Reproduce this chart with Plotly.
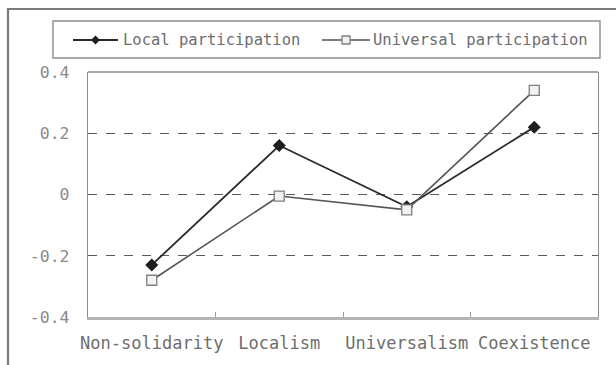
import plotly.graph_objects as go

# Categories and series values
categories = ["Non-solidarity", "Localism", "Universalism", "Coexistence"]
local_participation = [-0.23, 0.16, -0.04, 0.22]
universal_participation = [-0.28, -0.005, -0.05, 0.34]
series_names = ["Local participation", "Universal participation"]
y_tick_vals = [-0.4, -0.2, 0, 0.2, 0.4]
y_tick_text = ["-0.4", "-0.2", "0", "0.2", "0.4"]

W, H = 616, 365
L, R, T, B = 88, 18, 72, 48
pw, ph = W - L - R, H - T - B


def px_x(x):
    return (x - L) / pw


def px_y(y):
    return (H - B - y) / ph


FONT = "DejaVu Sans Mono"
TXT = "#6e6e6e"
LOCAL_COLOR = "#2a2a2a"
UNIV_LINE = "#555555"

fig = go.Figure()
fig.add_trace(go.Scatter(
    x=categories, y=local_participation, name=series_names[0],
    mode="lines+markers",
    line=dict(color=LOCAL_COLOR, width=1.8),
    marker=dict(symbol="diamond", size=10, color="#1e1e1e",
                line=dict(width=0)),
))
fig.add_trace(go.Scatter(
    x=categories, y=universal_participation, name=series_names[1],
    mode="lines+markers",
    line=dict(color=UNIV_LINE, width=1.6),
    marker=dict(symbol="square", size=10, color="#f2f2f2",
                line=dict(color="#808080", width=1.3)),
))

shapes = []
# Outer chart frame (runs past the right and bottom edges)
shapes.append(dict(type="rect", xref="paper", yref="paper",
                   x0=px_x(8), x1=px_x(650), y0=px_y(400), y1=px_y(9),
                   line=dict(color="#7a7a7a", width=2.2), layer="below"))
# Top edge of the plot area
shapes.append(dict(type="line", xref="paper", yref="paper",
                   x0=0, x1=1, y0=1, y1=1,
                   line=dict(color="#8a8a8a", width=1.3)))

# Legend box
shapes.append(dict(type="rect", xref="paper", yref="paper",
                   x0=px_x(53), x1=px_x(600), y0=px_y(58), y1=px_y(21),
                   line=dict(color="#8c8c8c", width=1.4), fillcolor="white"))
leg_y = 40
# Local participation key: line with filled diamond
shapes.append(dict(type="line", xref="paper", yref="paper",
                   x0=px_x(73), x1=px_x(118), y0=px_y(leg_y), y1=px_y(leg_y),
                   line=dict(color=LOCAL_COLOR, width=1.8)))
cx = 95.5
d = 4.5
shapes.append(dict(type="path", xref="paper", yref="paper",
                   path=(f"M{px_x(cx - d)},{px_y(leg_y)} L{px_x(cx)},{px_y(leg_y - d)} "
                         f"L{px_x(cx + d)},{px_y(leg_y)} L{px_x(cx)},{px_y(leg_y + d)} Z"),
                   fillcolor="#1e1e1e", line=dict(width=0)))
# Universal participation key: line with open square
shapes.append(dict(type="line", xref="paper", yref="paper",
                   x0=px_x(322), x1=px_x(370), y0=px_y(leg_y), y1=px_y(leg_y),
                   line=dict(color=UNIV_LINE, width=1.6)))
cx2 = 346
s = 4
shapes.append(dict(type="rect", xref="paper", yref="paper",
                   x0=px_x(cx2 - s), x1=px_x(cx2 + s),
                   y0=px_y(leg_y + s), y1=px_y(leg_y - s),
                   fillcolor="#f2f2f2", line=dict(color="#808080", width=1.3)))

annotations = [
    dict(text=series_names[0], xref="paper", yref="paper",
         x=px_x(121), y=px_y(leg_y), xanchor="left", yanchor="middle",
         showarrow=False, font=dict(family=FONT, size=15.5, color=TXT)),
    dict(text=series_names[1], xref="paper", yref="paper",
         x=px_x(371), y=px_y(leg_y), xanchor="left", yanchor="middle",
         showarrow=False, font=dict(family=FONT, size=15.5, color=TXT)),
]

fig.update_layout(
    width=W, height=H,
    margin=dict(l=L, r=R, t=T, b=B, autoexpand=False),
    paper_bgcolor="white", plot_bgcolor="white",
    font=dict(family=FONT, size=16, color=TXT),
    showlegend=False,
    shapes=shapes,
    annotations=annotations,
    xaxis=dict(
        type="category", range=[-0.5, 3.5],
        showgrid=False, showline=True,
        linecolor="#b4b4b4", linewidth=2.5,
        ticks="inside", tickson="boundaries", ticklen=5, tickcolor="#9a9a9a",
        tickwidth=1.2, tickangle=0, automargin=False,
        ticklabelstandoff=9,
        tickfont=dict(family=FONT, size=17, color=TXT),
        fixedrange=True,
    ),
    yaxis=dict(
        range=[-0.4, 0.4], tickvals=y_tick_vals, ticktext=y_tick_text,
        showgrid=True, gridcolor="#5a5a5a", griddash="dash", gridwidth=1,
        zeroline=False, automargin=False,
        showline=True, mirror=True, linecolor="#8a8a8a", linewidth=1.3,
        ticks="", ticklabelstandoff=14,
        tickfont=dict(family=FONT, size=16.5, color="#8a8a8a"),
        fixedrange=True,
    ),
)

fig.write_html("out.html")
